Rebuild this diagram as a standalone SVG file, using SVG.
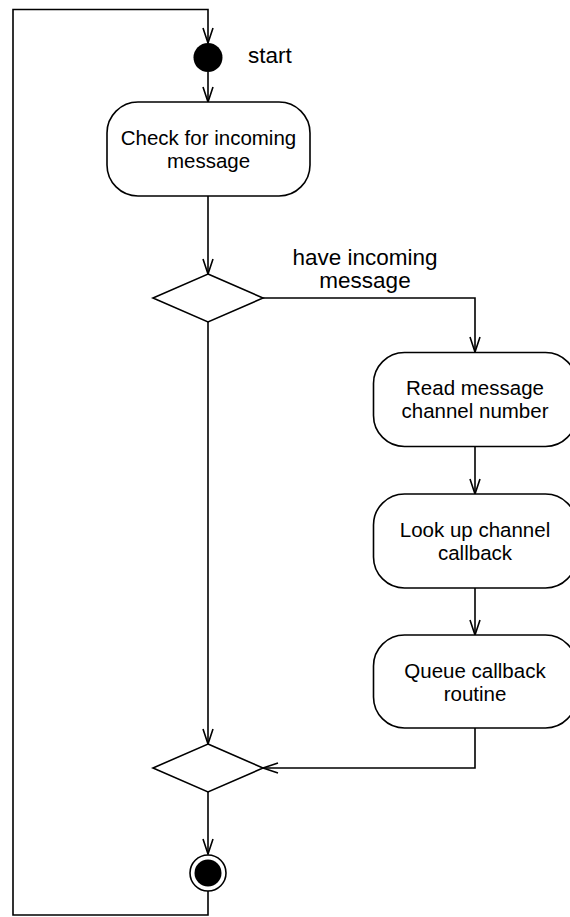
<svg xmlns="http://www.w3.org/2000/svg" width="570" height="917" viewBox="0 0 570 917">
  <style>
    .line { fill: none; stroke: #000; stroke-width: 1.6; }
    .shape { fill: #fff; stroke: #000; stroke-width: 1.6; }
    .label { font-family: "Liberation Sans", Arial, Helvetica, sans-serif; font-size: 20.5px; fill: #000; }
    .big { font-size: 22.5px; }
    .mid { text-anchor: middle; }
  </style>
  <defs>
    <marker id="open-arrow" viewBox="0 0 17 12" refX="16" refY="6" markerWidth="17" markerHeight="12" markerUnits="userSpaceOnUse" orient="auto">
      <path d="M1,1 L16,6 L1,11" fill="none" stroke="#000" stroke-width="1.6"/>
    </marker>
  </defs>

  <rect width="570" height="917" fill="#fff"/>

  <!-- connectors -->
  <g id="connectors">
    <!-- loop back from the final node to the start -->
    <path class="line" d="M208,891 L208,915 L13,915 L13,9.5 L208,9.5 L208,43" marker-end="url(#open-arrow)"/>
    <path class="line" d="M208,72 L208,102" marker-end="url(#open-arrow)"/>
    <path class="line" d="M208,196 L208,274" marker-end="url(#open-arrow)"/>
    <path class="line" d="M263,298 L475,298 L475,352" marker-end="url(#open-arrow)"/>
    <path class="line" d="M475,447 L475,494" marker-end="url(#open-arrow)"/>
    <path class="line" d="M475,588 L475,635" marker-end="url(#open-arrow)"/>
    <path class="line" d="M475,728 L475,768 L263,768" marker-end="url(#open-arrow)"/>
    <path class="line" d="M208,322 L208,744" marker-end="url(#open-arrow)"/>
    <path class="line" d="M208,792 L208,854" marker-end="url(#open-arrow)"/>
    <text class="label big mid" x="365" y="265">have incoming</text>
    <text class="label big mid" x="365" y="288">message</text>
  </g>

  <!-- start node -->
  <g id="start">
    <circle cx="208" cy="57.5" r="14.5" fill="#000"/>
    <text class="label big" x="248" y="63">start</text>
  </g>

  <g id="check-message">
    <rect class="shape" x="107" y="102" width="203" height="94" rx="31" ry="31"/>
    <text class="label mid" x="208.5" y="145">Check for incoming</text>
    <text class="label mid" x="208.5" y="168">message</text>
  </g>

  <g id="decision-incoming">
    <polygon class="shape" points="208,274 263,298 208,322 153,298"/>
  </g>

  <g id="read-channel">
    <rect class="shape" x="373.5" y="352.5" width="203" height="94" rx="31" ry="31"/>
    <text class="label mid" x="475" y="395">Read message</text>
    <text class="label mid" x="475" y="418">channel number</text>
  </g>

  <g id="lookup-callback">
    <rect class="shape" x="373.5" y="494" width="203" height="94" rx="31" ry="31"/>
    <text class="label mid" x="475" y="537">Look up channel</text>
    <text class="label mid" x="475" y="560">callback</text>
  </g>

  <g id="queue-callback">
    <rect class="shape" x="373.5" y="635" width="203" height="93" rx="31" ry="31"/>
    <text class="label mid" x="475" y="678">Queue callback</text>
    <text class="label mid" x="475" y="701">routine</text>
  </g>

  <g id="merge">
    <polygon class="shape" points="208,744 263,768 208,792 153,768"/>
  </g>

  <g id="end">
    <circle class="shape" cx="208" cy="873" r="18"/>
    <circle cx="208" cy="873" r="13.5" fill="#000"/>
  </g>
</svg>
